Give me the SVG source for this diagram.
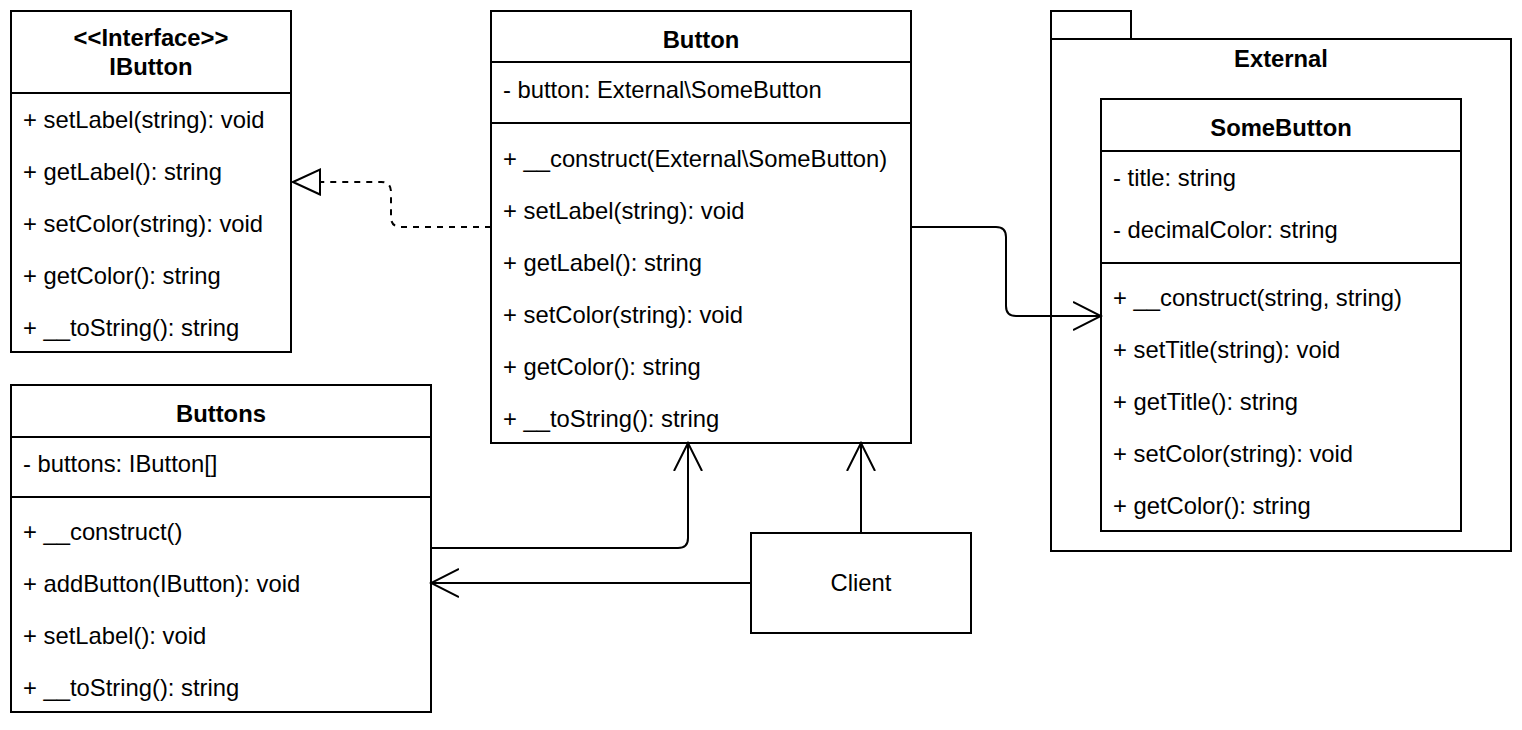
<svg xmlns="http://www.w3.org/2000/svg" width="1522" height="730" viewBox="0 0 1522 730">
<defs>
<style>
.box{fill:#fff;stroke:#000;stroke-width:2}
.ln{fill:none;stroke:#000;stroke-width:2}
text{font-family:"Liberation Sans",Arial,sans-serif;font-size:23.8px;fill:#000}
.b{font-weight:bold;text-anchor:middle}
.c{text-anchor:middle}
.dash{fill:none;stroke:#000;stroke-width:2;stroke-dasharray:6 6}
</style>
<marker id="open" viewBox="0 0 30 30" refX="28" refY="15" markerWidth="30" markerHeight="30" markerUnits="userSpaceOnUse" orient="auto">
<path d="M0,1 L28,15 L0,29" fill="none" stroke="#000" stroke-width="2"/>
</marker>
<marker id="tri" viewBox="0 0 30 30" refX="28" refY="15" markerWidth="30" markerHeight="30" markerUnits="userSpaceOnUse" orient="auto">
<path d="M1,2.5 L28,15 L1,27.5 Z" fill="#fff" stroke="#000" stroke-width="2"/>
</marker>
</defs>
<rect width="1522" height="730" fill="#fff"/>

<g id="external">
<path class="box" d="M1051,11 H1131 V39 H1051 Z"/>
<rect class="box" x="1051" y="39" width="460" height="512"/>
<text class="b" x="1281" y="67">External</text>
</g>

<g id="ibutton">
<rect class="box" x="11" y="11" width="280" height="341"/>
<line class="ln" x1="11" y1="93" x2="291" y2="93"/>
<text class="b" x="151" y="46">&lt;&lt;Interface&gt;&gt;</text>
<text class="b" x="151" y="75">IButton</text>
<text x="23" y="128">+ setLabel(string): void</text>
<text x="23" y="180">+ getLabel(): string</text>
<text x="23" y="232">+ setColor(string): void</text>
<text x="23" y="284">+ getColor(): string</text>
<text x="23" y="336">+ __toString(): string</text>
</g>

<g id="button">
<rect class="box" x="491" y="11" width="420" height="432"/>
<line class="ln" x1="491" y1="62" x2="911" y2="62"/>
<line class="ln" x1="491" y1="123" x2="911" y2="123"/>
<text class="b" x="701" y="48">Button</text>
<text x="503" y="98">- button: External\SomeButton</text>
<text x="503" y="167">+ __construct(External\SomeButton)</text>
<text x="503" y="219">+ setLabel(string): void</text>
<text x="503" y="271">+ getLabel(): string</text>
<text x="503" y="323">+ setColor(string): void</text>
<text x="503" y="375">+ getColor(): string</text>
<text x="503" y="427">+ __toString(): string</text>
</g>

<g id="buttons">
<rect class="box" x="11" y="385" width="420" height="327"/>
<line class="ln" x1="11" y1="437" x2="431" y2="437"/>
<line class="ln" x1="11" y1="497" x2="431" y2="497"/>
<text class="b" x="221" y="422">Buttons</text>
<text x="23" y="472">- buttons: IButton[]</text>
<text x="23" y="540">+ __construct()</text>
<text x="23" y="592">+ addButton(IButton): void</text>
<text x="23" y="644">+ setLabel(): void</text>
<text x="23" y="696">+ __toString(): string</text>
</g>

<g id="somebutton">
<rect class="box" x="1101" y="99" width="360" height="432"/>
<line class="ln" x1="1101" y1="151" x2="1461" y2="151"/>
<line class="ln" x1="1101" y1="263" x2="1461" y2="263"/>
<text class="b" x="1281" y="136">SomeButton</text>
<text x="1113" y="186">- title: string</text>
<text x="1113" y="238">- decimalColor: string</text>
<text x="1113" y="306">+ __construct(string, string)</text>
<text x="1113" y="358">+ setTitle(string): void</text>
<text x="1113" y="410">+ getTitle(): string</text>
<text x="1113" y="462">+ setColor(string): void</text>
<text x="1113" y="514">+ getColor(): string</text>
</g>

<g id="client">
<rect class="box" x="751" y="533" width="220" height="100"/>
<text class="c" x="861" y="591">Client</text>
</g>

<g id="connectors">
<path class="dash" d="M491,227 H401 Q391,227 391,217 V192 Q391,182 381,182 H293" marker-end="url(#tri)"/>
<path class="ln" d="M911,227 H996 Q1006,227 1006,237 V306 Q1006,316 1016,316 H1101" marker-end="url(#open)"/>
<path class="ln" d="M431,548 H678 Q688,548 688,538 V443" marker-end="url(#open)"/>
<path class="ln" d="M861,533 V443" marker-end="url(#open)"/>
<path class="ln" d="M751,583 H431" marker-end="url(#open)"/>
</g>
</svg>
